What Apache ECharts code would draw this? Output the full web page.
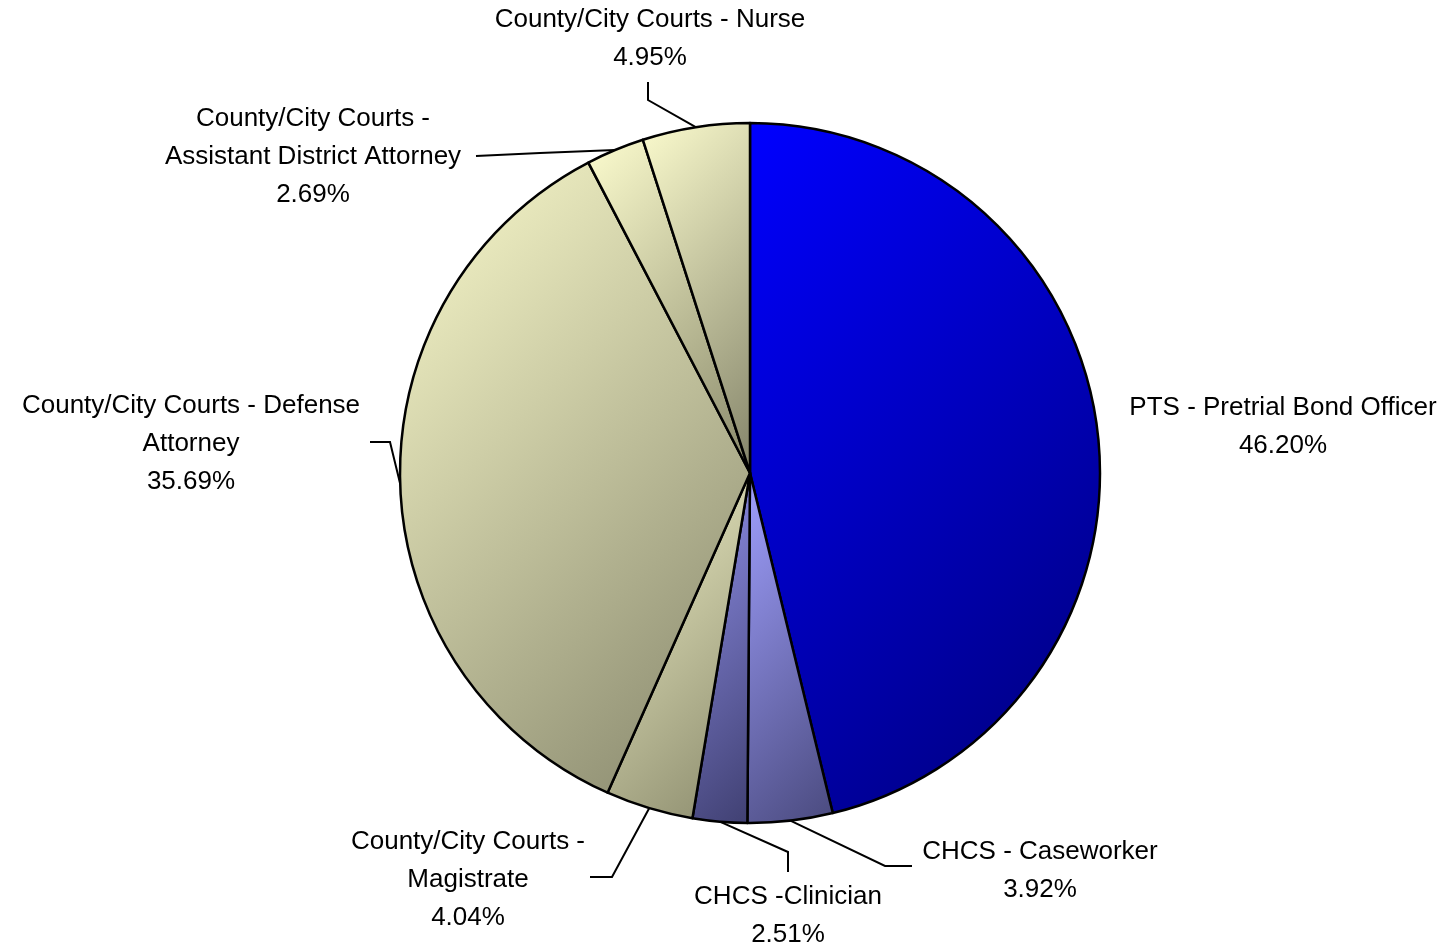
<!DOCTYPE html>
<html>
<head>
<meta charset="utf-8">
<script src="https://cdn.jsdelivr.net/npm/echarts@6/dist/echarts.min.js"></script>
<style>
html,body{margin:0;padding:0;background:#fff;}
#chart{width:1451px;height:948px;}
</style>
</head>
<body>
<div id="chart"></div>
<script>
// ---- data ----
const categories = [
  "PTS - Pretrial Bond Officer",
  "CHCS - Caseworker",
  "CHCS -Clinician",
  "County/City Courts -\nMagistrate",
  "County/City Courts - Defense\nAttorney",
  "County/City Courts -\nAssistant District Attorney",
  "County/City Courts - Nurse"
];
const values = [46.20, 3.92, 2.51, 4.04, 35.69, 2.69, 4.95];

// ---- styles / layout ----
const CX = 750, CY = 473, R = 350;
const gradients = [
  ['#0000ff', '#000078'],
  ['#a0a0ff', '#4a4a7e'],
  ['#9090ea', '#404072'],
  ['#f0f0c6', '#8a8a6c'],
  ['#fbfbcc', '#84846a'],
  ['#fcfcce', '#88886a'],
  ['#fbfbcd', '#84846a']
];
// label layout: text block centre + elbow points of leader lines
const labelPos = [
  {x: 1283, y: 427, line: null},
  {x: 1040, y: 871, line: [[885, 866], [912, 866]]},
  {x: 788,  y: 916, line: [[788, 852], [788, 872]]},
  {x: 468,  y: 880, line: [[612, 877], [590, 877]]},
  {x: 191,  y: 444, line: [[390, 442], [370, 442]]},
  {x: 313,  y: 157, line: [[540, 153], [476, 156]]},
  {x: 650,  y: 39,  line: [[648, 100], [648, 82]]}
];

// bounding box of each sector (clockwise from top), for a fixed 45deg gradient
const total = values.reduce((a, b) => a + b, 0);
function sectorBox(a0, a1) {
  const pts = [[CX, CY]];
  const pt = a => [CX + R * Math.sin(a * Math.PI / 180), CY - R * Math.cos(a * Math.PI / 180)];
  pts.push(pt(a0), pt(a1));
  for (let k = 0; k <= 360; k += 90) if (k > a0 && k < a1) pts.push(pt(k));
  const xs = pts.map(p => p[0]), ys = pts.map(p => p[1]);
  return [Math.min(...xs), Math.min(...ys), Math.max(...xs), Math.max(...ys)];
}
let acc = 0;
const data = categories.map((n, i) => {
  const a0 = acc / total * 360;
  acc += values[i];
  const a1 = acc / total * 360;
  const [x0, y0, x1, y1] = sectorBox(a0, a1);
  const d = ((x1 + y1) - (x0 + y0)) / 2;
  return {
    name: n,
    value: values[i],
    itemStyle: {
      color: new echarts.graphic.LinearGradient(x0, y0, x0 + d, y0 + d, [
        {offset: 0, color: gradients[i][0]},
        {offset: 1, color: gradients[i][1]}
      ], true)
    },
    labelLine: {show: labelPos[i].line !== null}
  };
});

const chart = echarts.init(document.getElementById('chart'), null, {renderer: 'canvas'});
chart.setOption({
  animation: false,
  backgroundColor: '#ffffff',
  series: [{
    type: 'pie',
    center: [CX, CY],
    radius: R,
    startAngle: 90,
    clockwise: true,
    avoidLabelOverlap: false,
    data: data,
    itemStyle: {borderColor: '#000', borderWidth: 2.5},
    label: {
      show: true,
      position: 'outside',
      color: '#000',
      fontFamily: 'Liberation Sans, Arial, sans-serif',
      fontSize: 26,
      lineHeight: 38,
      align: 'center',
      formatter: p => p.name + '\n' + p.value.toFixed(2) + '%'
    },
    labelLine: {
      show: true,
      lineStyle: {color: '#000', width: 2}
    },
    labelLayout: function (params) {
      const lp = labelPos[params.dataIndex];
      const out = {x: lp.x, y: lp.y, align: 'center', verticalAlign: 'middle'};
      if (lp.line && params.labelLinePoints) {
        out.labelLinePoints = [params.labelLinePoints[0], lp.line[0], lp.line[1]];
      }
      return out;
    }
  }]
});
</script>
</body>
</html>
